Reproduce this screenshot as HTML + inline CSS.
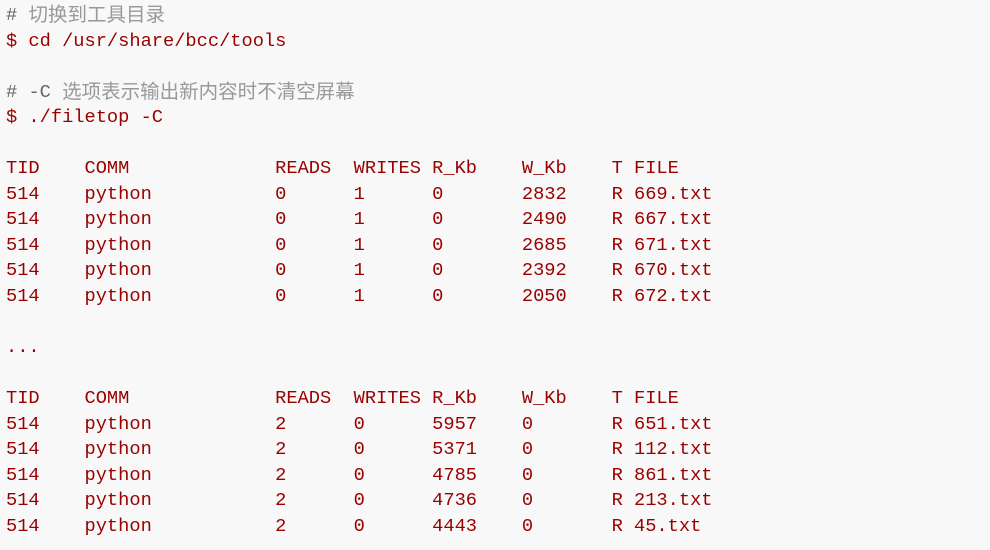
<!DOCTYPE html>
<html><head><meta charset="utf-8"><style>
html,body{margin:0;padding:0;background:#f8f8f8;width:990px;height:550px;overflow:hidden}
pre{margin:0;padding:3px 0 0 6px;font-family:"Liberation Mono","Noto Sans CJK SC",monospace;font-size:18.7px;line-height:25.55px;color:#990000;white-space:pre}
.c{color:#999}
.h{color:#666}
.z{font-family:"Noto Sans CJK SC",sans-serif;font-size:19.5px;line-height:20px;vertical-align:top}
</style></head><body>
<pre><span class="c"><span class="h">#</span> <span class="z">切换到工具目录</span></span>
<span>$ cd /usr/share/bcc/tools</span>

<span class="c"><span class="h">#</span> <span class="h">-C</span> <span class="z">选项表示输出新内容时不清空屏幕</span></span>
<span>$ ./filetop -C</span>

<span>TID    COMM             READS  WRITES R_Kb    W_Kb    T FILE
514    python           0      1      0       2832    R 669.txt
514    python           0      1      0       2490    R 667.txt
514    python           0      1      0       2685    R 671.txt
514    python           0      1      0       2392    R 670.txt
514    python           0      1      0       2050    R 672.txt</span>

...

<span>TID    COMM             READS  WRITES R_Kb    W_Kb    T FILE
514    python           2      0      5957    0       R 651.txt
514    python           2      0      5371    0       R 112.txt
514    python           2      0      4785    0       R 861.txt
514    python           2      0      4736    0       R 213.txt
514    python           2      0      4443    0       R 45.txt</span></pre>
</body></html>
